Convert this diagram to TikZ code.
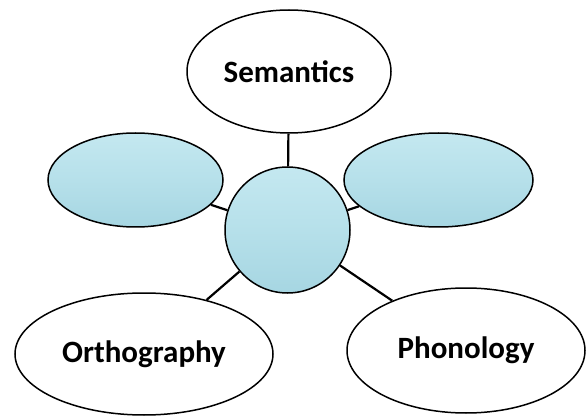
\documentclass[tikz,border=0pt]{standalone}
\usepackage{fontspec}
\setmainfont{Carlito}
\usetikzlibrary{shapes.geometric}
\definecolor{bubtop}{RGB}{196,232,240}
\definecolor{bubmid}{RGB}{182,224,234}
\definecolor{bubbot}{RGB}{166,214,226}
\tikzset{
  textoval/.style={draw=black, line width=1.5pt, ellipse, fill=white, inner sep=0pt,
    font=\fontsize{31}{37}\selectfont\bfseries},
  bubble/.style={draw=black, line width=1.5pt, ellipse, inner sep=0pt,
    top color=bubtop, bottom color=bubbot, middle color=bubmid,
    path picture={
      \fill[white, opacity=0.35] ([xshift=0.30\pgfkeysvalueof{/pgf/minimum width}]path picture bounding box.west) circle[x radius=0.16\pgfkeysvalueof{/pgf/minimum width}, y radius=0.22\pgfkeysvalueof{/pgf/minimum height}];
      \fill[white, opacity=0.30] ([xshift=-0.30\pgfkeysvalueof{/pgf/minimum width}, yshift=0.1\pgfkeysvalueof{/pgf/minimum height}]path picture bounding box.east) circle[x radius=0.13\pgfkeysvalueof{/pgf/minimum width}, y radius=0.18\pgfkeysvalueof{/pgf/minimum height}];
      \fill[white, opacity=0.25] ([yshift=-0.28\pgfkeysvalueof{/pgf/minimum height}]path picture bounding box.north) circle[x radius=0.12\pgfkeysvalueof{/pgf/minimum width}, y radius=0.15\pgfkeysvalueof{/pgf/minimum height}];
      \fill[white, opacity=0.22] ([yshift=0.22\pgfkeysvalueof{/pgf/minimum height}]path picture bounding box.south) circle[x radius=0.15\pgfkeysvalueof{/pgf/minimum width}, y radius=0.12\pgfkeysvalueof{/pgf/minimum height}];
    }},
  link/.style={draw=black, line width=2.2pt}
}
\begin{document}
\begin{tikzpicture}[x=1pt,y=-1pt]
\useasboundingbox (0,0) rectangle (587,417);
\node[bubble, minimum width=125pt, minimum height=126pt] (c) at (287.5,230) {};
\node[textoval, minimum width=204pt, minimum height=123pt] (sem) at (289,71.5) {Semantics};
\node[bubble, minimum width=175pt, minimum height=94pt] (bl) at (135.5,180) {};
\node[bubble, minimum width=189pt, minimum height=94pt] (br) at (438.5,180) {};
\node[textoval, minimum width=258pt, minimum height=122pt] (orth) at (144,354) {Orthography};
\node[textoval, minimum width=238pt, minimum height=125pt] (phon) at (466,350.5) {Phonology};
\draw[link] (sem) -- (c);
\draw[link] (bl) -- (c);
\draw[link] (br) -- (c);
\draw[link] (orth) -- (c);
\draw[link] (phon) -- (c);
\end{tikzpicture}
\end{document}
